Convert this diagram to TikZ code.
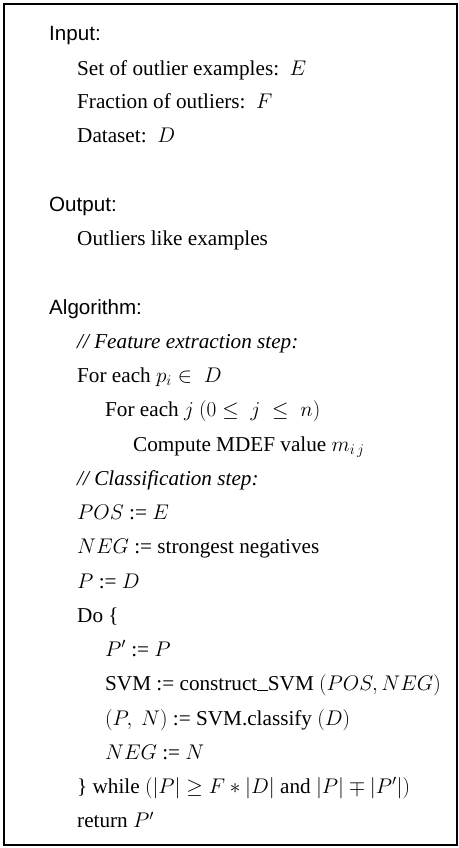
\RequirePackage{fix-cm}
\documentclass[tikz,border=0pt]{standalone}
\usepackage[no-math]{fontspec}
\setmainfont{Liberation Serif}
\newfontfamily\headfont{Liberation Sans}
\newcommand{\lowbar}{\rule[0pt]{0.5em}{0.05em}}
\begin{document}
\begin{tikzpicture}[x=1pt,y=-1pt,
  txt/.style={anchor=base west, inner sep=0pt, font=\fontsize{21.2}{25}\selectfont},
  head/.style={anchor=base west, inner sep=0pt, font=\headfont\fontsize{20.6}{25}\selectfont},
  frame/.style={draw=black, line width=2pt}]
\useasboundingbox (0,0) rectangle (458,848);
\draw[frame] (3.5,4) rectangle (456.5,845);
\def\la{49}\def\lb{77}\def\lc{105}\def\ld{133}
\node[head] (input) at (\la,40.5) {Input:};
\node[txt] (set) at (\lb,76) {Set of outlier examples: \,$E$};
\node[txt] (frac) at (\lb,108.5) {Fraction of outliers: \,$F$};
\node[txt] (data) at (\lb,142.8) {Dataset: \,$D$};
\node[head] (output) at (\la,211.5) {Output:};
\node[txt] (outl) at (\lb,245.5) {Outliers like examples};
\node[head] (algo) at (\la,314.5) {Algorithm:};
\node[txt] (feat) at (\lb,348.3) {\itshape // Feature extraction step:};
\node[txt] (fori) at (\lb,382.5) {For each $p_i \in\; D$};
\node[txt] (forj) at (\lc,416.8) {For each $j$ $(0 \leq\; j \;\leq\; n)$};
\node[txt] (comp) at (\ld,451) {Compute MDEF value $m_{i\,j}$};
\node[txt] (clas) at (\lb,485.3) {\itshape // Classification step:};
\node[txt] (pos) at (\lb,519.5) {$POS$ := $E$};
\node[txt] (neg) at (\lb,553.8) {$NEG$ := strongest negatives};
\node[txt] (pd) at (\lb,588) {$P$ := $D$};
\node[txt] (do) at (\lb,622.3) {Do \{};
\node[txt] (pp) at (\lc,656.5) {$P'$ := $P$};
\node[txt] (svm) at (\lc,690.8) {SVM := construct\lowbar SVM $(POS, NEG)$};
\node[txt] (cls) at (\lc,725) {$(P,\ N)$ := SVM.classify $(D)$};
\node[txt] (negn) at (\lc,759.3) {$NEG$ := $N$};
\node[txt] (while) at (\lb,793.5) {\} while $(|P| \geq F * |D|$ and $|P| \mp |P'|)$};
\node[txt] (ret) at (\lb,827.8) {return $P'$};
\end{tikzpicture}
\end{document}
